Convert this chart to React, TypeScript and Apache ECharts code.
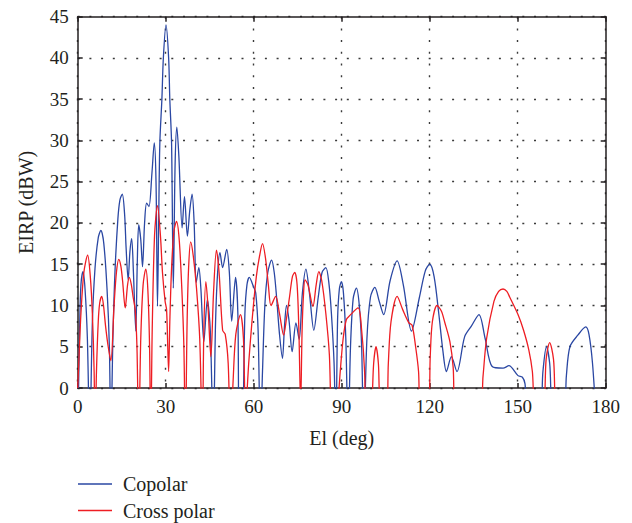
import React, { useEffect, useRef } from "react";
import * as echarts from "echarts";

// Elevation (deg), EIRP (dBW)
const copolarData: [number, number][] = [
  [0.3, 0], [0.7, 8], [1.1, 12.5], [1.8, 14.1], [2.5, 12], [3.3, 6], [4.1, -6],
  [5.0, 8], [5.9, 14.5], [7.0, 18.2], [7.9, 19.1], [8.9, 17.5], [10.0, 12], [10.8, 5], [11.3, -6],
  [12.0, 6], [12.7, 14], [13.7, 20.5], [14.4, 22.8], [15.2, 23.5], [16.0, 21], [16.5, 17],
  [17.2, 13.1], [17.8, 16.5], [18.4, 18.1], [19.0, 14], [19.8, 6.9], [20.3, 15], [20.8, 19.8],
  [21.5, 18], [22.1, 14.7], [22.8, 20], [23.5, 22.4], [24.3, 22.0], [25.3, 26], [26.1, 29.7],
  [26.7, 25], [27.2, 9.9], [27.6, 20], [28.0, 29.7], [28.7, 35], [29.2, 40], [30.1, 44.0],
  [31.0, 40], [31.4, 35], [32.0, 29.7], [32.6, 12.1], [33.2, 27], [33.8, 31.6], [34.5, 28],
  [35.6, 19.4], [36.4, 23.2], [37.4, 18.4], [38.2, 21.5], [39.0, 23.5], [39.7, 20], [40.4, 12.8],
  [41.3, 14.6], [42.0, 12], [43.0, 5.6], [44.2, 10.7], [45.2, 7], [46.2, -6], [47.0, 8],
  [47.7, 14], [48.5, 16.4], [49.4, 14.6], [50.8, 16.8], [51.7, 14], [52.5, 8.1], [53.8, 13.4],
  [54.6, 9], [55.1, -6], [56.0, -6], [57.0, 9], [57.7, 12.5], [58.5, 13.4], [59.9, 12.3],
  [60.7, 11.5], [61.5, 7], [62.3, -6], [63.0, 2], [63.8, 10], [64.8, 14], [66.1, 15.5],
  [67.0, 14], [67.8, 11], [68.8, 6.5], [69.8, 3.6], [70.5, 7.5], [71.2, 10], [72.1, 8],
  [73.1, 4.4], [74.4, 7.9], [75.5, 5.9], [76.6, 11.5], [77.8, 14.4], [79.0, 11.5], [80.5, 7.0],
  [82.0, 11], [83.3, 14], [84.6, 14.6], [85.7, 12.5], [86.5, 9], [87.4, 3], [88.0, -6],
  [88.6, 8.3], [89.2, 12], [89.9, 12.9], [90.6, 11.5], [91.4, 6], [92.2, -6], [93.0, 5],
  [93.9, 10.8], [95.0, 12.1], [96.0, 10], [96.8, 5], [97.5, -6], [98.6, 6], [99.8, 11],
  [101.3, 12.2], [102.8, 10.5], [104.3, 8.9], [106.5, 13], [108.9, 15.4], [111.0, 12.5],
  [113.8, 6.9], [116.5, 11], [118.5, 14.2], [120.0, 15.0], [121.5, 13.5], [123.1, 9],
  [124.5, 4.5], [125.7, 2.0], [127.4, 3.8], [129.3, 2.0], [131.9, 6.2], [134.2, 7.5],
  [136.8, 8.9], [138.9, 6], [141.3, 2.6], [145.0, 2.4], [147.0, 2.7], [150.1, 1.5], [151.6, 1.3],
  [152.5, 0.5], [153.1, -3], [157.5, -3], [158.6, 2], [159.8, 5.0], [160.9, 3], [162.2, -3],
  [165.7, -3], [166.6, 1.5], [167.8, 5], [170.5, 6.4], [173.2, 7.4], [174.3, 6.5], [175.5, 3],
  [176.6, -3],
];

const crossPolarData: [number, number][] = [
  [0, 0], [0.6, 5], [1.1, 9], [2.1, 14], [3.4, 16.1], [4.3, 13.5], [5.0, 9], [5.6, 2], [5.9, -6],
  [6.4, 2], [7.0, 8], [7.5, 10.3], [8.2, 11.1], [8.8, 10], [9.5, 7.5], [10.4, 5], [11.3, 3.3],
  [12.4, 10], [13.2, 14], [14.0, 15.6], [14.7, 14.8], [15.3, 13], [16.2, 9.7], [17.0, 12.5],
  [17.6, 13.4], [18.3, 12.5], [18.9, 11], [19.6, 9.5], [20.2, 5], [20.8, -6], [21.5, 6],
  [22.3, 12.5], [23.2, 14.4], [23.9, 12], [24.5, 5], [24.9, -6], [25.4, 7], [26.2, 18.5],
  [27.2, 22.1], [28.2, 18.5], [28.9, 14], [29.8, 10.5], [30.3, 9.5], [30.7, 5], [31.0, 2.0],
  [31.4, 8], [32.0, 14.5], [32.8, 19], [33.7, 20.2], [34.6, 18], [35.5, 12], [36.2, 5],
  [36.7, -6], [37.3, 8], [37.8, 14.5], [38.5, 17.7], [39.4, 16], [40.5, 12.1], [41.6, 6],
  [42.5, -6], [43.0, 7], [43.7, 12.9], [44.4, 10], [45.4, 3.8], [46.3, 11.5], [47.3, 16.7],
  [48.2, 14], [49.4, 7.0], [50.3, 6.5], [51.3, 3], [52.1, -6], [53.0, 1], [53.9, 6.5],
  [55.5, 8.9], [56.5, 6], [57.2, -3], [58.3, 3], [59.4, 8], [60.9, 13.5], [62.0, 16],
  [63.0, 17.5], [64.0, 15.8], [65.0, 12.5], [65.9, 10], [67.5, 11.1], [68.8, 9], [70.2, 6.4],
  [71.2, 8.5], [72.2, 11], [73.2, 13.5], [74.0, 14], [74.8, 12.5], [75.4, 7], [76.0, -2],
  [76.5, 7], [77.0, 11.5], [77.5, 13.1], [78.5, 12.5], [80.2, 9.9], [81.3, 12.5], [82.2, 14.1],
  [83.2, 13], [84.6, 9], [85.8, 4], [86.8, -6], [88.4, -3], [89.5, 2], [90.5, 6], [91.6, 8.3],
  [92.8, 8.8], [95.6, 9.7], [96.8, 7], [97.8, 2], [98.4, -6], [100.2, -2], [100.9, 3],
  [101.7, 5.0], [102.5, 3], [103.2, -2], [105.2, -3], [105.9, 3], [106.8, 8], [108.9, 11.1],
  [110.8, 9.5], [112.9, 7.9], [114.0, 7.6], [115.2, 5], [116.2, 2], [116.9, -3], [119.4, -3],
  [120.2, 4], [120.9, 8], [122.5, 10], [124.0, 9.3], [125.1, 8], [126.9, 5.6], [128.0, 2.5],
  [128.8, -3], [137.0, -3], [138.2, 1.5], [139.4, 6], [141.9, 10.5], [143.5, 11.7], [145.0, 12.0],
  [146.3, 11.7], [147.3, 11], [150.1, 8.9], [152.0, 7], [153.8, 4.6], [155.0, 2], [156.1, -3],
  [158.6, -3], [159.7, 3.5], [160.9, 5.5], [162.2, 3.5], [163.7, -3], [180, -3],
];

const seriesNames = ["Copolar", "Cross polar"];
const seriesColors = ["#2a47a3", "#ee1d23"];
const xRange = { min: 0, max: 180, interval: 30 };
const yRange = { min: 0, max: 45, interval: 5 };

const FONT = "'Liberation Serif', 'Times New Roman', serif";
const INK = "#231f20";

export default function App() {
  const ref = useRef<HTMLDivElement>(null);
  useEffect(() => {
    if (!ref.current) return;
    const chart = echarts.init(ref.current, undefined, { renderer: "svg" });
    const frameLine = { show: true, onZero: false, lineStyle: { color: INK, width: 1.5 } };
    const tick = { show: true, inside: true, length: 5, lineStyle: { color: INK, width: 1.5 } };
    const grid = { show: true, lineStyle: { type: [2, 9.7], color: "#3a3a3a", width: 1.4 } };
    chart.setOption({
      animation: false,
      textStyle: { fontFamily: FONT },
      grid: { left: 77.7, right: 26.3, top: 16.7, bottom: 135, containLabel: false },
      legend: {
        orient: "vertical",
        left: 78,
        top: 474,
        height: 60,
        padding: 0,
        icon: "rect",
        itemWidth: 34,
        itemHeight: 1.5,
        itemGap: 6.5,
        data: seriesNames,
        textStyle: { fontFamily: FONT, fontSize: 20, color: INK, padding: [0, 0, 0, 6] },
      },
      xAxis: [
        {
          type: "value", ...xRange, position: "bottom",
          axisLine: frameLine, axisTick: tick, splitLine: grid,
          axisLabel: { color: INK, fontFamily: FONT, fontSize: 19, margin: 9 },
          name: "El (deg)", nameLocation: "middle", nameGap: 40,
          nameTextStyle: { color: INK, fontFamily: FONT, fontSize: 20 },
        },
        {
          type: "value", ...xRange, position: "top",
          axisLine: frameLine, axisTick: tick, splitLine: { show: false }, axisLabel: { show: false },
        },
      ],
      yAxis: [
        {
          type: "value", ...yRange, position: "left",
          axisLine: frameLine, axisTick: tick, splitLine: grid,
          axisLabel: { color: INK, fontFamily: FONT, fontSize: 19, margin: 9 },
          name: "EIRP (dBW)", nameLocation: "middle", nameGap: 42,
          nameTextStyle: { color: INK, fontFamily: FONT, fontSize: 20 },
        },
        {
          type: "value", ...yRange, position: "right",
          axisLine: frameLine, axisTick: tick, splitLine: { show: false }, axisLabel: { show: false },
        },
      ],
      series: [
        {
          name: seriesNames[0], type: "line", data: copolarData, smooth: 0.3, symbol: "none",
          clip: true, lineStyle: { color: seriesColors[0], width: 1.3 }, itemStyle: { color: seriesColors[0] },
        },
        {
          name: seriesNames[1], type: "line", data: crossPolarData, smooth: 0.3, symbol: "none",
          clip: true, lineStyle: { color: seriesColors[1], width: 1.3 }, itemStyle: { color: seriesColors[1] },
        },
      ],
    });
    return () => chart.dispose();
  }, []);
  return (
    <div
      ref={ref}
      style={{ position: "fixed", left: 0, top: 0, width: 632, height: 523, background: "#fff" }}
    />
  );
}
